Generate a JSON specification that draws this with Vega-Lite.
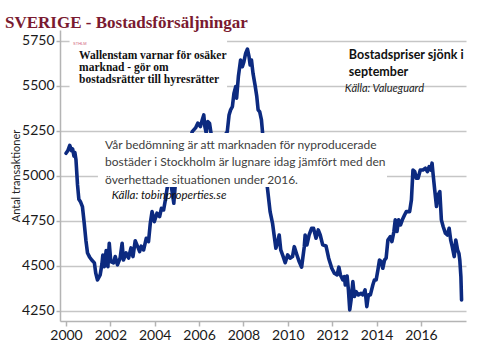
{
  "$schema": "https://vega.github.io/schema/vega-lite/v6.json",
  "width": 406,
  "height": 291,
  "autosize": {"type": "none"},
  "padding": {"left": 60, "top": 30, "right": 22, "bottom": 37},
  "background": "white",
  "title": {"text": "SVERIGE - Bostadsförsäljningar", "anchor": "start", "frame": "group", "dx": -55, "dy": 20, "offset": 5, "font": "Liberation Serif", "fontSize": 17, "fontWeight": "bold", "color": "#7a1a30", "baseline": "alphabetic"},
  "config": {
    "view": {"stroke": null},
    "axis": {"labelFont": "Lato", "titleFont": "Lato", "domainColor": "#b4b4b4", "domainWidth": 1.5, "tickColor": "#b4b4b4", "tickWidth": 1.5}
  },
  "layer": [
    {
      "data": {"values": [
        {"year": 2000.00, "value": 5126}, {"year": 2000.08, "value": 5140}, {"year": 2000.17, "value": 5170}, {"year": 2000.25, "value": 5140},
        {"year": 2000.30, "value": 5150}, {"year": 2000.36, "value": 5110}, {"year": 2000.40, "value": 5130}, {"year": 2000.45, "value": 5090},
        {"year": 2000.52, "value": 4950}, {"year": 2000.58, "value": 4870}, {"year": 2000.66, "value": 4855}, {"year": 2000.74, "value": 4830},
        {"year": 2000.82, "value": 4740}, {"year": 2000.90, "value": 4640}, {"year": 2000.97, "value": 4572}, {"year": 2001.06, "value": 4550},
        {"year": 2001.16, "value": 4533}, {"year": 2001.28, "value": 4517}, {"year": 2001.34, "value": 4461}, {"year": 2001.42, "value": 4422},
        {"year": 2001.54, "value": 4450}, {"year": 2001.62, "value": 4510}, {"year": 2001.66, "value": 4560}, {"year": 2001.73, "value": 4496},
        {"year": 2001.81, "value": 4585}, {"year": 2001.89, "value": 4496}, {"year": 2001.95, "value": 4626}, {"year": 2002.02, "value": 4524},
        {"year": 2002.14, "value": 4517}, {"year": 2002.22, "value": 4552}, {"year": 2002.32, "value": 4506}, {"year": 2002.44, "value": 4544},
        {"year": 2002.53, "value": 4626}, {"year": 2002.59, "value": 4533}, {"year": 2002.71, "value": 4572}, {"year": 2002.82, "value": 4544},
        {"year": 2002.93, "value": 4600}, {"year": 2003.02, "value": 4552}, {"year": 2003.12, "value": 4640}, {"year": 2003.23, "value": 4607},
        {"year": 2003.32, "value": 4580}, {"year": 2003.39, "value": 4610}, {"year": 2003.50, "value": 4589}, {"year": 2003.62, "value": 4654},
        {"year": 2003.72, "value": 4635}, {"year": 2003.80, "value": 4737}, {"year": 2003.88, "value": 4802}, {"year": 2003.98, "value": 4746},
        {"year": 2004.10, "value": 4793}, {"year": 2004.22, "value": 4774}, {"year": 2004.30, "value": 4820}, {"year": 2004.40, "value": 4811},
        {"year": 2004.48, "value": 4867}, {"year": 2004.56, "value": 4932}, {"year": 2004.66, "value": 4985}, {"year": 2004.74, "value": 4950},
        {"year": 2004.86, "value": 4848}, {"year": 2004.95, "value": 4990}, {"year": 2005.05, "value": 5050}, {"year": 2005.15, "value": 5020},
        {"year": 2005.25, "value": 5100}, {"year": 2005.35, "value": 5080}, {"year": 2005.45, "value": 5150}, {"year": 2005.55, "value": 5180},
        {"year": 2005.69, "value": 5246}, {"year": 2005.84, "value": 5267}, {"year": 2005.94, "value": 5293}, {"year": 2006.06, "value": 5274},
        {"year": 2006.14, "value": 5311}, {"year": 2006.21, "value": 5339}, {"year": 2006.26, "value": 5274}, {"year": 2006.32, "value": 5239},
        {"year": 2006.39, "value": 5302}, {"year": 2006.47, "value": 5293}, {"year": 2006.55, "value": 5228}, {"year": 2006.65, "value": 5180},
        {"year": 2006.75, "value": 5200}, {"year": 2006.85, "value": 5150}, {"year": 2006.95, "value": 5170}, {"year": 2007.05, "value": 5200},
        {"year": 2007.15, "value": 5225}, {"year": 2007.27, "value": 5246}, {"year": 2007.35, "value": 5339}, {"year": 2007.42, "value": 5367},
        {"year": 2007.50, "value": 5385}, {"year": 2007.57, "value": 5459}, {"year": 2007.65, "value": 5496}, {"year": 2007.69, "value": 5432},
        {"year": 2007.77, "value": 5552}, {"year": 2007.87, "value": 5644}, {"year": 2007.95, "value": 5607}, {"year": 2008.02, "value": 5635},
        {"year": 2008.10, "value": 5682}, {"year": 2008.18, "value": 5705}, {"year": 2008.25, "value": 5663}, {"year": 2008.30, "value": 5617},
        {"year": 2008.36, "value": 5644}, {"year": 2008.43, "value": 5570}, {"year": 2008.52, "value": 5506}, {"year": 2008.60, "value": 5441},
        {"year": 2008.66, "value": 5367}, {"year": 2008.73, "value": 5357}, {"year": 2008.81, "value": 5311}, {"year": 2008.85, "value": 5256},
        {"year": 2008.95, "value": 5100}, {"year": 2009.08, "value": 4932}, {"year": 2009.20, "value": 4802}, {"year": 2009.31, "value": 4737},
        {"year": 2009.38, "value": 4672}, {"year": 2009.46, "value": 4598}, {"year": 2009.53, "value": 4626}, {"year": 2009.61, "value": 4672},
        {"year": 2009.68, "value": 4589}, {"year": 2009.79, "value": 4552}, {"year": 2009.88, "value": 4518}, {"year": 2009.99, "value": 4561},
        {"year": 2010.10, "value": 4543}, {"year": 2010.21, "value": 4552}, {"year": 2010.29, "value": 4607}, {"year": 2010.41, "value": 4561},
        {"year": 2010.51, "value": 4524}, {"year": 2010.62, "value": 4493}, {"year": 2010.74, "value": 4607}, {"year": 2010.78, "value": 4672},
        {"year": 2010.86, "value": 4617}, {"year": 2010.96, "value": 4672}, {"year": 2011.07, "value": 4709}, {"year": 2011.16, "value": 4709},
        {"year": 2011.27, "value": 4654}, {"year": 2011.37, "value": 4700}, {"year": 2011.46, "value": 4672}, {"year": 2011.57, "value": 4617},
        {"year": 2011.72, "value": 4611}, {"year": 2011.84, "value": 4543}, {"year": 2011.98, "value": 4487}, {"year": 2012.10, "value": 4459},
        {"year": 2012.22, "value": 4450}, {"year": 2012.30, "value": 4493}, {"year": 2012.37, "value": 4450}, {"year": 2012.48, "value": 4422},
        {"year": 2012.55, "value": 4441}, {"year": 2012.59, "value": 4394}, {"year": 2012.67, "value": 4444}, {"year": 2012.73, "value": 4367},
        {"year": 2012.79, "value": 4256}, {"year": 2012.85, "value": 4311}, {"year": 2012.93, "value": 4413}, {"year": 2013.00, "value": 4330},
        {"year": 2013.08, "value": 4357}, {"year": 2013.18, "value": 4339}, {"year": 2013.30, "value": 4348}, {"year": 2013.38, "value": 4339},
        {"year": 2013.48, "value": 4367}, {"year": 2013.56, "value": 4274}, {"year": 2013.63, "value": 4339}, {"year": 2013.72, "value": 4339},
        {"year": 2013.83, "value": 4394}, {"year": 2013.90, "value": 4422}, {"year": 2013.98, "value": 4422}, {"year": 2014.06, "value": 4478},
        {"year": 2014.13, "value": 4533}, {"year": 2014.21, "value": 4524}, {"year": 2014.28, "value": 4487}, {"year": 2014.36, "value": 4533},
        {"year": 2014.43, "value": 4543}, {"year": 2014.51, "value": 4644}, {"year": 2014.62, "value": 4663}, {"year": 2014.69, "value": 4635},
        {"year": 2014.78, "value": 4691}, {"year": 2014.84, "value": 4756}, {"year": 2014.92, "value": 4691}, {"year": 2014.99, "value": 4756},
        {"year": 2015.08, "value": 4728}, {"year": 2015.16, "value": 4756}, {"year": 2015.26, "value": 4783}, {"year": 2015.34, "value": 4802},
        {"year": 2015.49, "value": 4802}, {"year": 2015.57, "value": 4867}, {"year": 2015.64, "value": 5033}, {"year": 2015.72, "value": 5024},
        {"year": 2015.79, "value": 4987}, {"year": 2015.87, "value": 4987}, {"year": 2015.97, "value": 5033}, {"year": 2016.09, "value": 5033},
        {"year": 2016.20, "value": 5043}, {"year": 2016.29, "value": 5024}, {"year": 2016.37, "value": 5052}, {"year": 2016.44, "value": 5033},
        {"year": 2016.50, "value": 5071}, {"year": 2016.55, "value": 5006}, {"year": 2016.62, "value": 4922}, {"year": 2016.70, "value": 4830},
        {"year": 2016.77, "value": 4894}, {"year": 2016.85, "value": 4913}, {"year": 2016.92, "value": 4756}, {"year": 2017.00, "value": 4719},
        {"year": 2017.10, "value": 4682}, {"year": 2017.19, "value": 4672}, {"year": 2017.27, "value": 4709}, {"year": 2017.34, "value": 4644},
        {"year": 2017.41, "value": 4607}, {"year": 2017.50, "value": 4552}, {"year": 2017.57, "value": 4644}, {"year": 2017.65, "value": 4589},
        {"year": 2017.71, "value": 4570}, {"year": 2017.75, "value": 4533}, {"year": 2017.80, "value": 4441}, {"year": 2017.83, "value": 4311}
      ]},
      "mark": {"type": "line", "color": "#0c2a80", "strokeWidth": 3.6, "strokeJoin": "round", "strokeCap": "round"},
      "encoding": {
        "x": {"field": "year", "type": "quantitative",
              "scale": {"domain": [1999.73, 2018.03], "nice": false, "zero": false},
              "axis": {"values": [2000, 2002, 2004, 2006, 2008, 2010, 2012, 2014, 2016], "format": "d", "title": null, "grid": false,
                       "labelFontSize": 14, "labelColor": "#1a1a1a", "tickSize": 5, "labelPadding": 2, "labelFlush": false, "labelOverlap": false}},
        "y": {"field": "value", "type": "quantitative",
              "scale": {"domain": [4194, 5811], "nice": false, "zero": false},
              "axis": {"values": [4250, 4500, 4750, 5000, 5250, 5500, 5750], "format": "d", "title": "Antal transaktioner",
                       "titleFontSize": 11, "titleFontWeight": "normal", "titleColor": "#222222", "titlePadding": 0,
                       "labelFontSize": 14, "labelColor": "#1a1a1a", "tickSize": 4, "labelPadding": 2,
                       "grid": true, "gridColor": "#c6c6c6", "gridWidth": 1.5}}
      }
    },
    {
      "data": {"values": [{"box": "headline"}]},
      "mark": {"type": "rect", "color": "white", "opacity": 1},
      "encoding": {
        "x": {"datum": 2000.16, "type": "quantitative"}, "x2": {"datum": 2007.26},
        "y": {"datum": 5775, "type": "quantitative"}, "y2": {"datum": 5483}
      }
    },
    {
      "data": {"values": [{"box": "quote"}]},
      "mark": {"type": "rect", "color": "white", "opacity": 1},
      "encoding": {
        "x": {"datum": 2001.44, "type": "quantitative"}, "x2": {"datum": 2014.47},
        "y": {"datum": 5239, "type": "quantitative"}, "y2": {"datum": 4939}
      }
    },
    {
      "data": {"values": [{"label": "STHLM"}]},
      "mark": {"type": "text", "align": "left", "baseline": "middle", "font": "Liberation Sans", "fontSize": 4, "color": "#d0607a"},
      "encoding": {"x": {"datum": 2000.32, "type": "quantitative"}, "y": {"datum": 5733, "type": "quantitative"}, "text": {"field": "label"}}
    },
    {
      "data": {"values": [{"label": "Wallenstam varnar för osäker\nmarknad - gör om\nbostadsrätter till hyresrätter"}]},
      "mark": {"type": "text", "align": "left", "baseline": "middle", "font": "Liberation Serif", "fontWeight": "bold", "fontSize": 11.5, "lineHeight": 11.7, "lineBreak": "\n", "color": "#111111"},
      "encoding": {"x": {"datum": 2000.59, "type": "quantitative"}, "y": {"datum": 5664, "type": "quantitative"}, "text": {"field": "label"}}
    },
    {
      "data": {"values": [{"label": "Bostadspriser sjönk i\nseptember"}]},
      "mark": {"type": "text", "align": "left", "baseline": "middle", "font": "Lato", "fontWeight": "bold", "fontSize": 12.5, "lineHeight": 16.5, "lineBreak": "\n", "color": "#111111"},
      "encoding": {"x": {"datum": 2012.75, "type": "quantitative"}, "y": {"datum": 5672, "type": "quantitative"}, "text": {"field": "label"}}
    },
    {
      "data": {"values": [{"label": "Källa: Valueguard"}]},
      "mark": {"type": "text", "align": "left", "baseline": "middle", "font": "Lato", "fontStyle": "italic", "fontSize": 11, "color": "#222222"},
      "encoding": {"x": {"datum": 2012.57, "type": "quantitative"}, "y": {"datum": 5483, "type": "quantitative"}, "text": {"field": "label"}}
    },
    {
      "data": {"values": [{"label": "Vår bedömning är att marknaden  för nyproducerade\nbostäder i Stockholm är lugnare idag jämfört med den\növerhettade situationen under 2016."}]},
      "mark": {"type": "text", "align": "left", "baseline": "middle", "font": "Lato", "fontSize": 12, "lineHeight": 17.5, "lineBreak": "\n", "color": "#404040"},
      "encoding": {"x": {"datum": 2001.76, "type": "quantitative"}, "y": {"datum": 5172, "type": "quantitative"}, "text": {"field": "label"}}
    },
    {
      "data": {"values": [{"label": "Källa: tobinproperties.se"}]},
      "mark": {"type": "text", "align": "left", "baseline": "middle", "font": "Lato", "fontStyle": "italic", "fontSize": 11.5, "color": "#111111"},
      "encoding": {"x": {"datum": 2002.06, "type": "quantitative"}, "y": {"datum": 4890, "type": "quantitative"}, "text": {"field": "label"}}
    }
  ]
}
